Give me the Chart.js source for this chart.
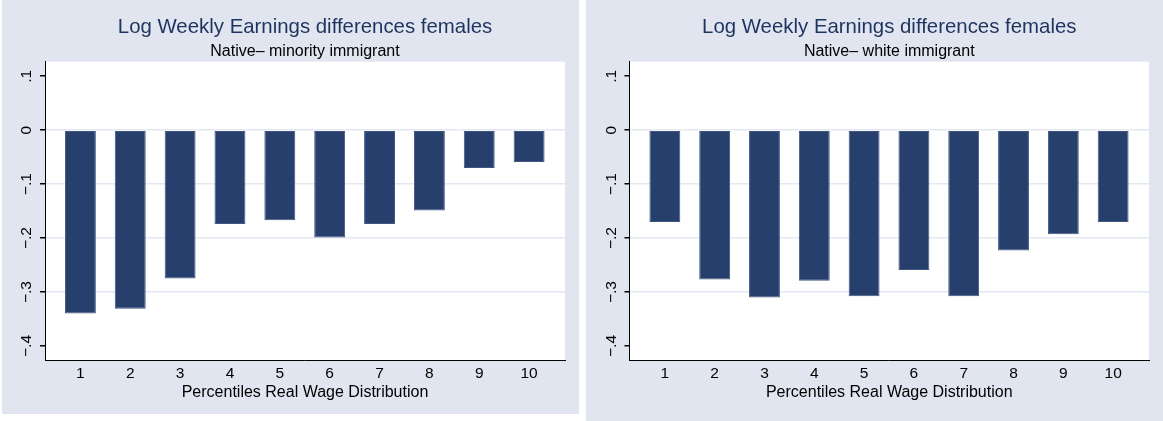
<!DOCTYPE html>
<html>
<head>
<meta charset="utf-8">
<script src="https://cdn.jsdelivr.net/npm/chart.js@4.4.1/dist/chart.umd.min.js"></script>
<style>
  html, body { margin: 0; padding: 0; background: #ffffff; }
  body { width: 1163px; height: 421px; position: relative; overflow: hidden; }
  .panel { position: absolute; background: #e1e5f0; }
  #p1 { left: 2px; top: 0px; width: 577px; height: 414px; }
  #p2 { left: 586px; top: 0px; width: 577px; height: 421px; }
  canvas { display: block; }
</style>
</head>
<body>
<div class="panel" id="p1"><canvas id="c1" width="577" height="414"></canvas></div>
<div class="panel" id="p2"><canvas id="c2" width="577" height="421"></canvas></div>
<script>
// ---- data ----
const categories = [1, 2, 3, 4, 5, 6, 7, 8, 9, 10];
const minorityGap = [-0.340, -0.331, -0.275, -0.174, -0.167, -0.199, -0.174, -0.149, -0.070, -0.059];
const whiteGap    = [-0.170, -0.277, -0.310, -0.279, -0.308, -0.259, -0.308, -0.223, -0.193, -0.170];
const yTickValues = [0.1, 0, -0.1, -0.2, -0.3, -0.4];
const yTickLabels = ['.1', '0', '\u2212.1', '\u2212.2', '\u2212.3', '\u2212.4'];
const xTickLabels = ['1', '2', '3', '4', '5', '6', '7', '8', '9', '10'];
const titleText = 'Log Weekly Earnings differences females';
const subtitles = ['Native\u2013 minority immigrant', 'Native\u2013 white immigrant'];
const xTitle = 'Percentiles Real Wage Distribution';

const FONT = '"Liberation Sans", Arial, Helvetica, sans-serif';
const BAR = '#263f6d';
const GRID = '#e4e8f2';

const plotBg = {
  id: 'plotBg',
  beforeDraw(chart) {
    const { ctx, chartArea: a } = chart;
    ctx.save();
    ctx.fillStyle = '#ffffff';
    ctx.fillRect(a.left, a.top, a.right - a.left, a.bottom - a.top);
    ctx.restore();
  }
};

function makeChart(id, values, subtitle, yWidth, padBottom) {
  const ctx = document.getElementById(id).getContext('2d');
  return new Chart(ctx, {
    type: 'bar',
    data: {
      datasets: [{
        data: categories.map((c, i) => ({ x: c, y: values[i] })),
        backgroundColor: BAR,
        borderColor: '#41567f',
        borderWidth: 1,
        borderSkipped: false,
        barPercentage: 0.62,
        categoryPercentage: 1.0
      }]
    },
    options: {
      responsive: false,
      animation: false,
      devicePixelRatio: 1,
      layout: { padding: { left: 0, right: 14, top: 0, bottom: padBottom } },
      plugins: {
        legend: { display: false },
        tooltip: { enabled: false },
        title: {
          display: true,
          text: titleText,
          fullSize: false,
          color: '#1f335f',
          font: { family: FONT, size: 20.4, weight: 'normal', lineHeight: 1.2 },
          padding: { top: 15.5, bottom: 0 }
        },
        subtitle: {
          display: true,
          text: subtitle,
          fullSize: false,
          color: '#000000',
          font: { family: FONT, size: 16, weight: 'normal', lineHeight: 1.2 },
          padding: { top: 1.9, bottom: 0.6 }
        }
      },
      scales: {
        x: {
          type: 'linear',
          offset: false,
          min: 0.29,
          max: 10.72,
          afterBuildTicks: (s) => { s.ticks = categories.map(v => ({ value: v })); },
          afterFit: (s) => { s.height = 41.7; },
          ticks: {
            autoSkip: false,
            maxRotation: 0,
            color: '#000000',
            padding: 4,
            font: { family: FONT, size: 15.5 },
            callback: (v) => xTickLabels[categories.indexOf(v)]
          },
          grid: { display: true, drawOnChartArea: false, drawTicks: false },
          border: { display: true, color: '#000000', width: 1 },
          title: {
            display: true,
            text: xTitle,
            color: '#000000',
            font: { family: FONT, size: 16, lineHeight: 1.2 },
            padding: { top: 0, bottom: 0 }
          }
        },
        y: {
          type: 'linear',
          min: -0.426,
          max: 0.127,
          afterBuildTicks: (s) => { s.ticks = yTickValues.map(v => ({ value: v })); },
          afterFit: (s) => { s.width = yWidth; },
          ticks: {
            autoSkip: false,
            minRotation: 90,
            maxRotation: 90,
            crossAlign: 'center',
            padding: 2,
            color: '#000000',
            font: { family: FONT, size: 15.5 },
            callback: (v) => {
              const i = yTickValues.findIndex(t => Math.abs(t - v) < 1e-9);
              return i >= 0 ? yTickLabels[i] : '';
            }
          },
          grid: {
            drawTicks: true,
            tickLength: 5,
            tickColor: '#000000',
            lineWidth: 1.5,
            color: (c) => {
              const v = c.tick ? c.tick.value : null;
              if (v === null) return 'transparent';
              if (Math.abs(v - 0.1) < 1e-9 || Math.abs(v + 0.4) < 1e-9) return 'transparent';
              return GRID;
            }
          },
          border: { display: true, color: '#000000', width: 1 }
        }
      }
    },
    plugins: [plotBg]
  });
}

makeChart('c1', minorityGap, subtitles[0], 43, 12.3);
makeChart('c2', whiteGap, subtitles[1], 43.5, 19.3);
</script>
</body>
</html>
